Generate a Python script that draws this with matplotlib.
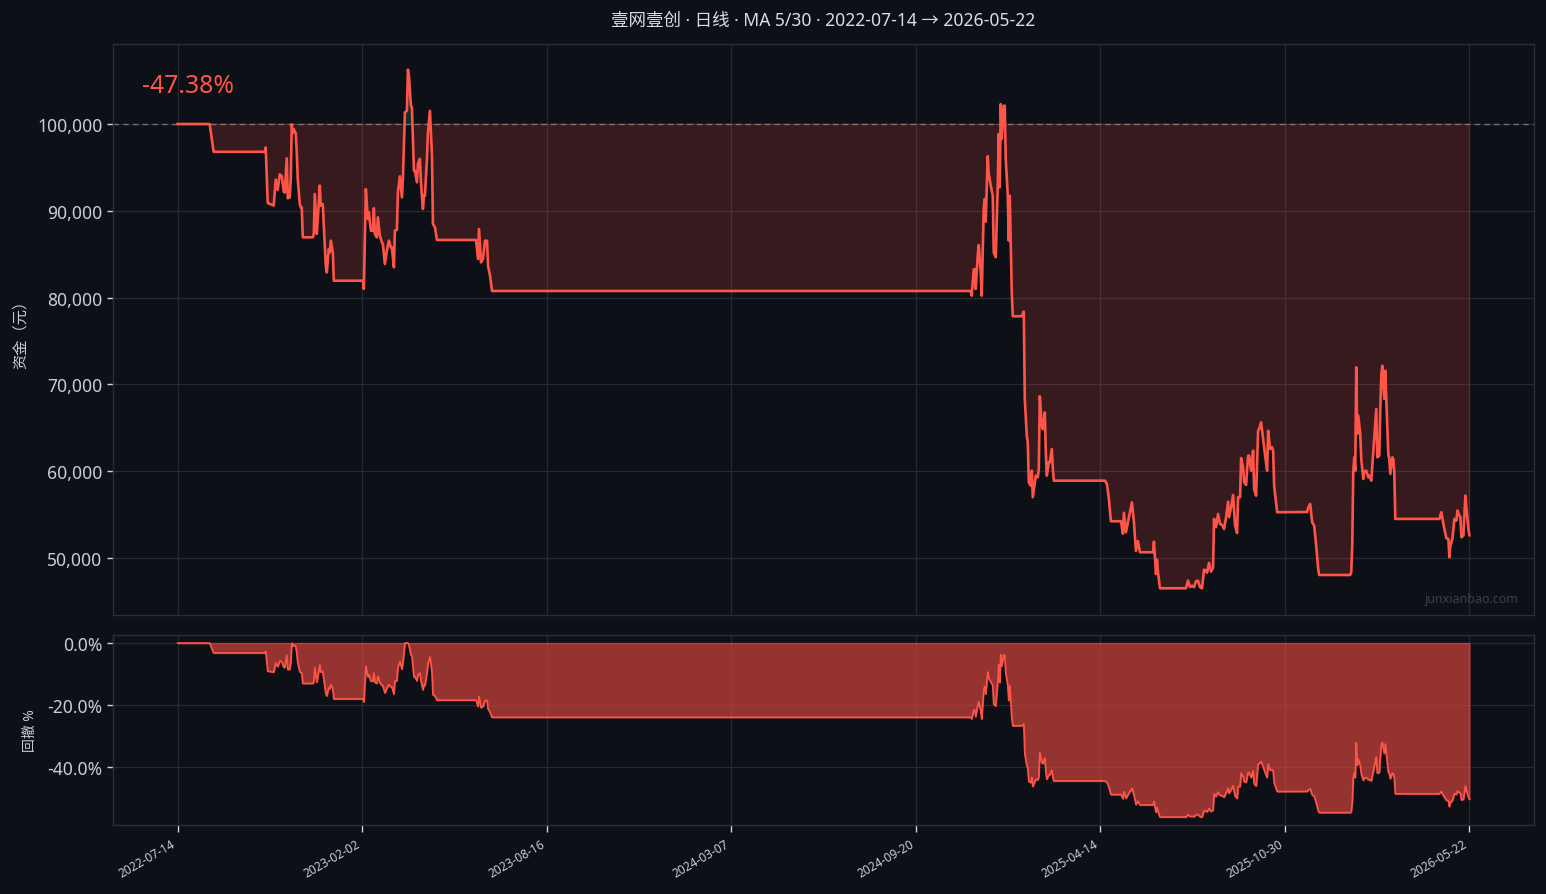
import numpy as np
import matplotlib
matplotlib.use("Agg")
import matplotlib.pyplot as plt
from matplotlib.ticker import FuncFormatter, FixedLocator

plt.rcParams['font.family'] = ['Noto Sans', 'Noto Sans CJK SC', 'DejaVu Sans']

# ---------------- data ----------------
title = "壹网壹创 · 日线 · MA 5/30 · 2022-07-14 → 2026-05-22"
n_bars = 1291
tick_labels = ["2022-07-14", "2023-02-02", "2023-08-16", "2024-03-07",
               "2024-09-20", "2025-04-14", "2025-10-30", "2026-05-22"]
initial_capital = 100000

bar_index = [
    0, 32, 36, 87, 88, 90, 96, 98, 100, 102, 104, 106, 107, 109, 110, 112, 113, 114, 115, 116,
    118, 119, 120, 122, 123, 124, 125, 135, 136, 137, 139, 140, 142, 143, 145, 146, 148, 149, 151, 152,
    153, 155, 156, 185, 186, 188, 190, 191, 193, 195, 196, 197, 199, 200, 202, 204, 205, 207, 209, 211,
    213, 214, 216, 217, 219, 220, 222, 224, 225, 227, 229, 230, 231, 233, 234, 236, 237, 239, 240, 242,
    243, 245, 246, 247, 249, 250, 252, 254, 255, 257, 259, 298, 300, 301, 303, 305, 307, 309, 310, 312,
    314, 792, 793, 795, 796, 797, 799, 800, 802, 803, 805, 806, 807, 809, 810, 812, 814, 815, 817, 819,
    820, 821, 822, 823, 825, 826, 827, 829, 830, 831, 832, 833, 834, 843, 845, 846, 848, 849, 850, 852,
    853, 854, 856, 857, 859, 860, 861, 863, 864, 866, 867, 868, 870, 871, 873, 874, 875, 926, 928, 930,
    932, 942, 944, 945, 947, 949, 951, 953, 955, 957, 959, 961, 974, 975, 977, 978, 979, 981, 1007, 1009,
    1011, 1013, 1015, 1017, 1019, 1021, 1023, 1025, 1027, 1028, 1030, 1032, 1034, 1035, 1037, 1039, 1041, 1043,
    1045, 1047, 1049, 1050, 1052, 1054, 1056, 1058, 1059, 1061, 1062, 1064, 1065, 1067, 1069, 1070, 1072, 1074,
    1075, 1077, 1079, 1080, 1082, 1084, 1086, 1088, 1089, 1091, 1093, 1094, 1095, 1098, 1128, 1129, 1131, 1133,
    1135, 1137, 1139, 1140, 1171, 1172, 1173, 1174, 1175, 1176, 1177, 1178, 1179, 1181, 1182, 1184, 1185, 1187,
    1189, 1190, 1192, 1194, 1195, 1197, 1198, 1200, 1201, 1202, 1203, 1205, 1206, 1207, 1209, 1210, 1211, 1213,
    1214, 1215, 1216, 1260, 1262, 1264, 1265, 1267, 1269, 1270, 1271, 1273, 1275, 1277, 1278, 1280, 1281, 1282,
    1284, 1285, 1286, 1287, 1289, 1290,
]

equity = [
    100000, 100000, 96800, 96800, 97300, 90900, 90600, 93600, 92400, 94200, 94000, 92200, 92100, 96050, 91440, 91550, 93660, 99960, 98960, 99400,
    98900, 96740, 93660, 90780, 90400, 90400, 86950, 86950, 87330, 91940, 87330, 89050, 92900, 90600, 90780, 88290, 83680, 82900, 85580, 85200,
    86560, 85200, 81950, 81950, 81000, 92500, 89050, 89820, 87700, 87700, 90290, 87330, 86940, 89250, 87130, 86370, 86180, 83870, 85400, 86560,
    85790, 85790, 83490, 87710, 87820, 92120, 93970, 91550, 93660, 101340, 101530, 106260, 105570, 102110, 101920, 94620, 94620, 93280, 95400, 95970,
    93280, 90210, 91740, 91740, 95970, 99040, 101530, 96350, 88480, 88100, 86640, 86640, 84450, 87900, 84060, 84450, 86560, 86560, 83680, 82520,
    80760, 80760, 80220, 83220, 83300, 81000, 84850, 86060, 82950, 80220, 90210, 91360, 88750, 96280, 94250, 92900, 91740, 85220, 84650, 92890,
    98850, 92700, 102300, 98270, 102110, 102110, 95970, 91740, 86560, 91740, 86370, 80610, 77850, 77850, 78390, 68320, 64100, 63330, 58720, 58330,
    60060, 57000, 58720, 59490, 59300, 60260, 68630, 65260, 64840, 66760, 62180, 59490, 61020, 61020, 62560, 60260, 58910, 58910, 58530, 56800,
    54230, 54230, 52800, 55200, 52960, 54120, 55270, 56400, 54120, 50800, 51950, 50660, 50660, 51880, 48160, 49800, 48380, 46510, 46510, 47390,
    46650, 46800, 46630, 47320, 47390, 46630, 46510, 48660, 48530, 48300, 49430, 48420, 48900, 54500, 53550, 55070, 53920, 53800,
    53340, 54690, 56490, 54690, 55840, 57260, 53730, 52880, 57000, 57000, 61520, 60450, 58720, 58410, 61790, 61790, 60060, 62370,
    57950, 57180, 64670, 64860, 65630, 63710, 61790, 60060, 64670, 62560, 62750, 62370, 58330, 55270, 55300, 55800, 56220, 54110,
    53720, 51420, 48730, 48040, 48040, 48350, 51420, 59870, 61600, 60060, 71970, 64290, 66390, 64290, 61410, 59100, 59950, 60060,
    59300, 59490, 58910, 62180, 63710, 67170, 61600, 61790, 66980, 70990, 72160, 68320, 71580, 68320, 61990, 61410, 59680, 61600,
    61410, 59870, 54500, 54500, 55270, 53920, 53340, 52270, 52190, 50080, 51420, 52190, 54500, 54310, 55460, 54880, 54690, 52390,
    52580, 54880, 57180, 55650, 53340, 52620,
]

# ---------------- styling ----------------
BG = '#0d1017'
GRID = '#252932'
SPINE = '#2a2e38'
TXT = '#c9cdd6'
LINE = '#ff5549'
CJK = ['Noto Sans CJK SC', 'DejaVu Sans']

x = np.array(bar_index, dtype=float)
eq = np.array(equity, dtype=float)
dd = (eq / np.maximum.accumulate(eq) - 1.0) * 100.0
total_ret = (eq[-1] / initial_capital - 1.0) * 100.0

fig = plt.figure(figsize=(15.46, 8.95), dpi=100, facecolor=BG)
W, H = 1546.0, 895.0
ax1 = fig.add_axes([113 / W, 1 - 616 / H, 1421 / W, 571 / H])
ax2 = fig.add_axes([113 / W, 1 - 826 / H, 1421 / W, 190 / H], sharex=ax1)

for ax in (ax1, ax2):
    ax.set_facecolor(BG)
    for s in ax.spines.values():
        s.set_color(SPINE)
        s.set_linewidth(1.0)
    ax.grid(True, color=GRID, linewidth=0.9)
    ax.set_axisbelow(True)
    ax.tick_params(axis='y', colors='#d0d4dc', labelcolor=TXT, labelsize=12.6, length=4, width=1)

# ---- equity panel ----
ax1.fill_between(x, eq, initial_capital, where=eq <= initial_capital, interpolate=True,
                 color='#e0453a', alpha=0.2, linewidth=1)
ax1.fill_between(x, eq, initial_capital, where=eq >= initial_capital, interpolate=True,
                 color='#2ea85a', alpha=0.2, linewidth=0)
ax1.axhline(initial_capital, color='#8a8f99', linestyle=(0, (4, 3)), linewidth=1, alpha=0.7)
ax1.plot(x, eq, color=LINE, linewidth=1.9, solid_joinstyle='round')
ax1.set_ylim(43430, 109220)
ax1.yaxis.set_major_locator(FixedLocator([50000, 60000, 70000, 80000, 90000, 100000]))
ax1.yaxis.set_major_formatter(FuncFormatter(lambda v, p: f'{v:,.0f}'))
ax1.set_ylabel('资金（元）', color=TXT, fontsize=11, labelpad=6, family=CJK)
ax1.tick_params(axis='x', labelbottom=False, length=0)
ax1.text(0.0204, 0.927, f'{total_ret:.2f}%', transform=ax1.transAxes, color='#ff5549',
         fontsize=17.8, ha='left', va='center')
ax1.text(0.989, 0.018, 'junxianbao.com', transform=ax1.transAxes, color='#3a3f4a',
         fontsize=9, ha='right', va='bottom')
ax1.set_title(title, color='#d8dce4', fontsize=12.6, pad=14)

# ---- drawdown panel ----
ax2.fill_between(x, dd, 0, color='#ef4b42', alpha=0.6, linewidth=1)
ax2.plot(x, dd, color=LINE, linewidth=1.2)
ax2.set_ylim(-58.8, 2.6)
ax2.yaxis.set_major_locator(FixedLocator([0, -20, -40]))
ax2.yaxis.set_major_formatter(FuncFormatter(lambda v, p: f'{v:.1f}%'))
ax2.set_ylabel('回撤 %', color=TXT, fontsize=10, labelpad=7)

ticks = np.linspace(0, n_bars - 1, len(tick_labels))
ax2.set_xticks(ticks)
ax2.set_xticklabels(tick_labels, rotation=30, ha='right', fontsize=8.6, color=TXT)
ax2.tick_params(axis='x', colors='#d0d4dc', labelcolor=TXT, length=5, width=1)
ax2.set_xlim(-0.05 * (n_bars - 1), 1.05 * (n_bars - 1))

fig.savefig('out.png', dpi=100, facecolor=BG)
